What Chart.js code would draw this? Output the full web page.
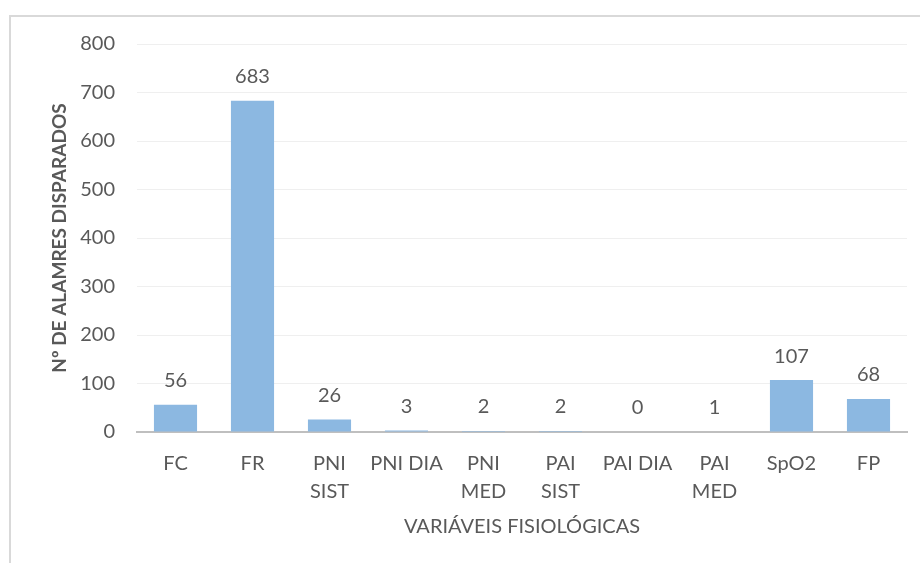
<!DOCTYPE html>
<html>
<head>
<meta charset="utf-8">
<script src="https://cdn.jsdelivr.net/npm/chart.js@4/dist/chart.umd.min.js"></script>
<style>
  html, body { margin: 0; padding: 0; background: #fff; }
  #wrap { position: relative; width: 920px; height: 563px; overflow: hidden; }
  #frame { position: absolute; left: 9px; top: 15px; width: 930px; height: 600px;
           border-left: 2px solid #d9d9d9; border-top: 2px solid #d9d9d9; box-sizing: border-box; }
  canvas { position: absolute; left: 0; top: 0; }
</style>
</head>
<body>
<div id="wrap">
  <div id="frame"></div>
  <canvas id="c" width="920" height="563"></canvas>
</div>
<script>
const categories = ["FC", "FR", ["PNI", "SIST"], "PNI DIA", ["PNI", "MED"], ["PAI", "SIST"], "PAI DIA", ["PAI", "MED"], "SpO2", "FP"];
const alarmes = [56, 683, 26, 3, 2, 2, 0, 1, 107, 68];
const yTicks = [0, 100, 200, 300, 400, 500, 600, 700, 800];
const xTitle = "VARIÁVEIS FISIOLÓGICAS";
const yTitle = "Nº DE ALAMRES DISPARADOS";

const FONT = "Lato, 'Open Sans', sans-serif";
const TXT = "#595959";

const valueLabels = {
  id: 'valueLabels',
  afterDatasetsDraw(chart) {
    const ctx = chart.ctx;
    const meta = chart.getDatasetMeta(0);
    ctx.save();
    ctx.font = "20px " + FONT;
    ctx.fillStyle = TXT;
    ctx.textAlign = "center";
    ctx.textBaseline = "middle";
    meta.data.forEach((bar, i) => {
      ctx.fillText(String(alarmes[i]), bar.x, bar.y - 24);
    });
    ctx.restore();
  }
};

new Chart(document.getElementById('c'), {
  type: 'bar',
  data: {
    labels: categories,
    datasets: [{
      data: alarmes,
      backgroundColor: '#8cb8e1',
      borderWidth: 0,
      categoryPercentage: 1,
      barPercentage: 0.56
    }]
  },
  options: {
    responsive: false,
    animation: false,
    events: [],
    layout: { padding: { left: 44, right: 13, top: 44, bottom: 20 } },
    plugins: { legend: { display: false }, tooltip: { enabled: false } },
    scales: {
      x: {
        grid: { display: false },
        border: { display: true, color: '#bfbfbf', width: 2 },
        ticks: { color: TXT, font: { family: FONT, size: 20, lineHeight: 1.4 }, padding: 10, maxRotation: 0, autoSkip: false },
        title: { display: true, text: xTitle, color: TXT, font: { family: FONT, size: 20 }, padding: { top: 10 } },
        afterFit(s) { s.height = 111; }
      },
      y: {
        min: 0, max: 800,
        afterBuildTicks(s) { s.ticks = yTicks.map(v => ({ value: v })); },
        grid: { color: '#efefef', lineWidth: 1, drawTicks: false },
        border: { display: false },
        ticks: { color: TXT, font: { family: FONT, size: 20 }, padding: 22 },
        title: { display: true, text: yTitle, color: TXT, font: { family: FONT, size: 19, weight: 'bold' }, padding: { bottom: 12 } },
        afterFit(s) { s.width = 93; }
      }
    }
  },
  plugins: [valueLabels]
});
</script>
</body>
</html>
